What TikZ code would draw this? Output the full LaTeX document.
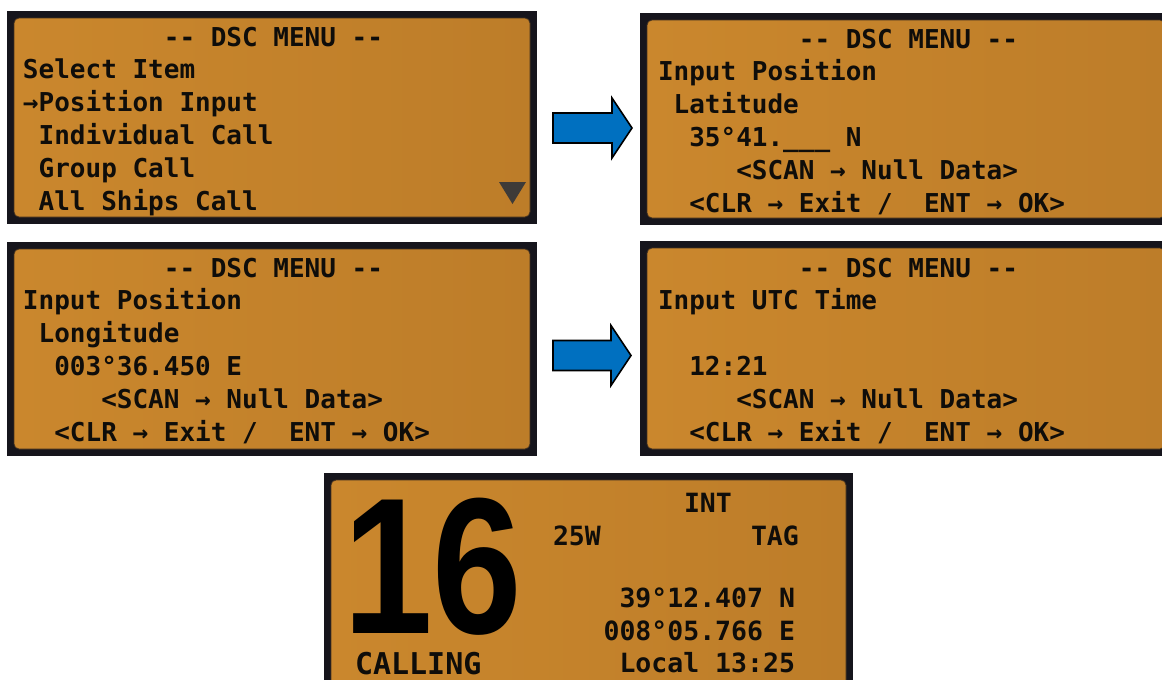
\documentclass[tikz,border=0pt]{standalone}
\usepackage{fontspec}
\newfontfamily\lcdfont{DejaVu Sans Mono}
\newfontfamily\bigdigfont{Liberation Sans}
\definecolor{lcdblack}{HTML}{16151C}
\definecolor{lcdA}{HTML}{CA872D}
\definecolor{lcdB}{HTML}{BD7D29}
\definecolor{lcdink}{HTML}{0F0D0A}
\definecolor{arrowblue}{HTML}{0070C0}
\definecolor{trigray}{HTML}{3E3B38}
\newcommand\lcdpanel[5]{% name, x0, y0, x1, y1
  \fill[lcdblack] (#2,#3) rectangle (#4,#5);
  \shade[left color=lcdA, right color=lcdB, draw=lcdblack!75!lcdA, line width=0.8pt, rounded corners=5pt]
    (#2+7,#3+7) rectangle (#4-7,#5-7);
  \coordinate (#1) at (#2,#3);
}
\newcommand\lcdtxt[5]{% name, x0, col, baseline, text
  \node[lcdtext] (#1) at (#2+#3*15.65,#4) {#5};
}
\begin{document}
\begin{tikzpicture}[x=1pt,y=-1pt,
  lcdtext/.style={anchor=base west, inner sep=0pt, outer sep=0pt, text=lcdink,
    font=\lcdfont\bfseries\fontsize{26}{26}\selectfont},
  lcdright/.style={lcdtext, anchor=base east, font=\lcdfont\bfseries\fontsize{26.5}{26.5}\selectfont},
  bluearrow/.style={fill=arrowblue, draw=black, line width=1.6pt, line join=miter}]
\clip (0,0) rectangle (1162,680);
\fill[white] (0,0) rectangle (1162,680);

% ---------- panel 1 ----------
\lcdpanel{p1}{7}{11}{537}{224}
\lcdtxt{p1t}{23}{9}{46}{-{}- DSC MENU -{}-}
\lcdtxt{p1a}{23}{0}{78.8}{Select Item}
\lcdtxt{p1b}{23}{0}{111.6}{→Position Input}
\lcdtxt{p1c}{23}{1}{144.4}{Individual Call}
\lcdtxt{p1d}{23}{1}{177.2}{Group Call}
\lcdtxt{p1e}{23}{1}{210}{All Ships Call}
\fill[trigray] (499,182) -- (526,182) -- (512.5,204) -- cycle;

% ---------- panel 2 ----------
\lcdpanel{p2}{640}{13}{1172}{225}
\lcdtxt{p2t}{658}{9}{48}{-{}- DSC MENU -{}-}
\lcdtxt{p2a}{658}{0}{80.8}{Input Position}
\lcdtxt{p2b}{658}{1}{113.6}{Latitude}
\lcdtxt{p2c}{658}{2}{146.4}{35°41.\_\_\_ N}
\lcdtxt{p2d}{658}{5}{179.2}{<SCAN → Null Data>}
\lcdtxt{p2e}{658}{2}{212}{<CLR → Exit /~~ENT → OK>}

% ---------- panel 3 ----------
\lcdpanel{p3}{7}{242}{537}{456}
\lcdtxt{p3t}{23}{9}{277}{-{}- DSC MENU -{}-}
\lcdtxt{p3a}{23}{0}{309.8}{Input Position}
\lcdtxt{p3b}{23}{1}{342.6}{Longitude}
\lcdtxt{p3c}{23}{2}{375.4}{003°36.450 E}
\lcdtxt{p3d}{23}{5}{408.2}{<SCAN → Null Data>}
\lcdtxt{p3e}{23}{2}{441}{<CLR → Exit /~~ENT → OK>}

% ---------- panel 4 ----------
\lcdpanel{p4}{640}{241}{1172}{456}
\lcdtxt{p4t}{658}{9}{277}{-{}- DSC MENU -{}-}
\lcdtxt{p4a}{658}{0}{309.8}{Input UTC Time}
\lcdtxt{p4c}{658}{2}{375.4}{12:21}
\lcdtxt{p4d}{658}{5}{408.2}{<SCAN → Null Data>}
\lcdtxt{p4e}{658}{2}{441}{<CLR → Exit /~~ENT → OK>}

% ---------- panel 5 ----------
\lcdpanel{p5}{324}{473}{853}{692}
\node[anchor=base west, inner sep=0pt, text=black,
  font=\bigdigfont\bfseries\fontsize{194}{194}\selectfont] (ch) at (343,633) {\raisebox{0pt}[\height][0pt]{\scalebox{0.83}[1]{16}}};
\node[lcdtext, font=\lcdfont\bfseries\fontsize{30}{30}\selectfont] (calling) at (355,674) {CALLING};
\node[lcdtext, font=\lcdfont\bfseries\fontsize{26.5}{26.5}\selectfont] (int) at (684,512) {INT};
\node[lcdtext, font=\lcdfont\bfseries\fontsize{26.5}{26.5}\selectfont] (pwr) at (553,545) {25W};
\node[lcdtext, font=\lcdfont\bfseries\fontsize{26.5}{26.5}\selectfont] (tag) at (751,545) {TAG};
\node[lcdright] (lat) at (795,607) {39°12.407 N};
\node[lcdright] (lon) at (795,640) {008°05.766 E};
\node[lcdright] (loc) at (795,672) {Local 13:25};

% ---------- arrows ----------
\draw[bluearrow] (553,113) -- (612,113) -- (612,98) -- (632,128) -- (612,158) -- (612,143) -- (553,143) -- cycle;
\draw[bluearrow] (553,340.5) -- (611,340.5) -- (611,325.5) -- (631,355.5) -- (611,385.5) -- (611,370.5) -- (553,370.5) -- cycle;
\end{tikzpicture}
\end{document}
